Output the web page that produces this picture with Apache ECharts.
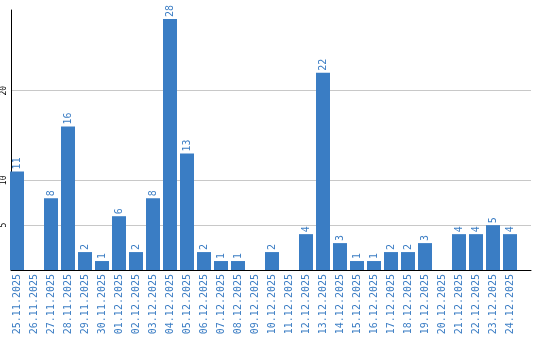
<!DOCTYPE html>
<html><head><meta charset="utf-8">
<script src="https://cdn.jsdelivr.net/npm/echarts@6/dist/echarts.min.js"></script>
<style>html,body{margin:0;padding:0;background:#fff}#c{width:540px;height:340px}</style>
</head><body><div id="c"></div>
<script>
const categories = ['25.11.2025','26.11.2025','27.11.2025','28.11.2025','29.11.2025','30.11.2025','01.12.2025','02.12.2025','03.12.2025','04.12.2025','05.12.2025','06.12.2025','07.12.2025','08.12.2025','09.12.2025','10.12.2025','11.12.2025','12.12.2025','13.12.2025','14.12.2025','15.12.2025','16.12.2025','17.12.2025','18.12.2025','19.12.2025','20.12.2025','21.12.2025','22.12.2025','23.12.2025','24.12.2025'];
const values = [11,0,8,16,2,1,6,2,8,28,13,2,1,1,0,2,0,4,22,3,1,1,2,2,3,0,4,4,5,4];
const yTicks = [5,10,20];

const chart = echarts.init(document.getElementById('c'), null, {renderer:'canvas'});
chart.setOption({
  animation:false,
  grid:[
    {left:10, width:521, top:10, height:260, containLabel:false},
    {left:8.5, width:510, top:10, height:260, containLabel:false}
  ],
  xAxis:[
    {gridIndex:0, type:'value', min:0, max:1,
      axisLine:{show:true, onZero:false, lineStyle:{color:'#000', width:1}},
      axisTick:{show:false}, axisLabel:{show:false}, splitLine:{show:false}},
    {gridIndex:1, type:'category', data:categories, boundaryGap:true,
      axisLine:{show:false},
      axisTick:{show:false},
      axisLabel:{interval:0, rotate:90, margin:4, color:'#3b7dc4', fontFamily:'DejaVu Sans Mono', fontSize:10}}
  ],
  yAxis:[
    {gridIndex:0, type:'value', min:0, max:29,
      axisLine:{show:true, lineStyle:{color:'#000', width:1}},
      axisTick:{show:false, customValues:yTicks},
      axisLabel:{customValues:yTicks, rotate:90, margin:3, color:'#000', fontFamily:'DejaVu Sans Mono', fontSize:8},
      splitLine:{show:true, lineStyle:{color:'#c8c8c8', width:1}}},
    {gridIndex:1, type:'value', min:0, max:29, show:false, splitLine:{show:false}}
  ],
  series:[{
    type:'bar', xAxisIndex:1, yAxisIndex:1, data:values, barWidth:14,
    itemStyle:{color:'#3a7dc4'},
    label:{show:true, position:'top', rotate:90, align:'left', verticalAlign:'middle', distance:2,
      color:'#3b7dc4', fontFamily:'DejaVu Sans Mono', fontSize:10,
      formatter:p=>p.value ? String(p.value) : ''}
  }]
});
</script></body></html>
